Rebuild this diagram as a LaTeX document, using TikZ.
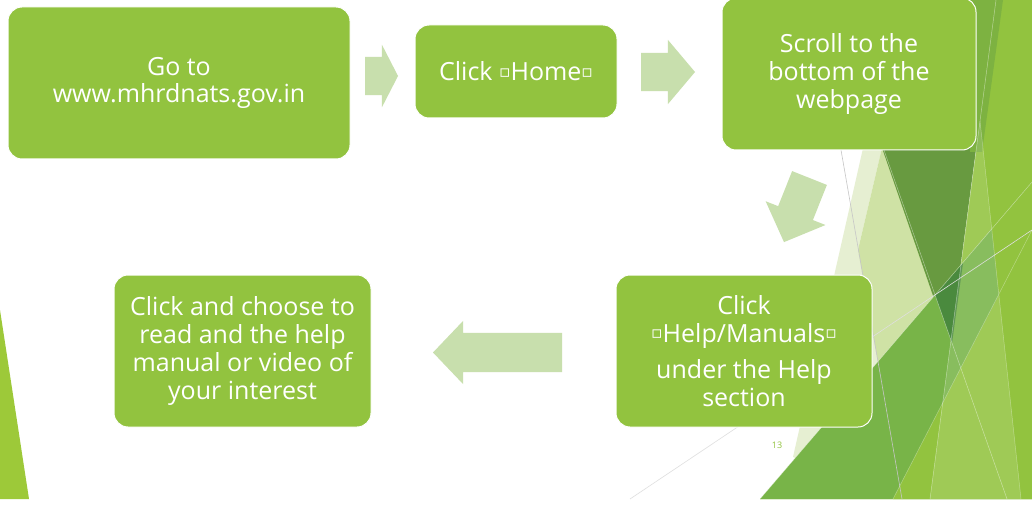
\documentclass[tikz,border=0pt]{standalone}
\usepackage{fontspec}
\setmainfont{Open Sans}
\newfontfamily\symfont{DejaVu Sans}
\usepackage{tikz}
\usetikzlibrary{positioning,calc,shapes.arrows}
\definecolor{leaf}{RGB}{146,195,63}
\definecolor{flowgreen}{RGB}{200,223,173}
\definecolor{palegreen}{RGB}{230,239,210}
\definecolor{midpale}{RGB}{207,226,165}
\definecolor{darkleaf}{RGB}{104,154,64}
\definecolor{midleaf}{RGB}{120,180,72}
\definecolor{deepleaf}{RGB}{74,138,62}
\definecolor{topleaf}{RGB}{125,178,65}
\newcommand{\qmark}{\raisebox{3.5pt}{\symfont\fontsize{17}{17}\selectfont ▫}}

\begin{document}
\begin{tikzpicture}[x=1pt,y=-1pt,
  card/.style={fill=leaf, draw=white, line width=1pt, rounded corners=14pt, align=center,
    text=white, font=\fontsize{25}{27.8}\selectfont, inner sep=0pt},
  flow/.style={single arrow, fill=flowgreen, inner xsep=0pt, outer sep=0pt, anchor=tail}]
\useasboundingbox (0,0) rectangle (1032,505);

%background
\fill[white] (0,0) rectangle (1032,505);
\fill[leaf!90!yellow] (0,310)--(29,499)--(0,499)--cycle;
\fill[leaf] (996,0)--(1032,0)--(1032,499)--(760,499)--(950,345)--cycle;
\fill[palegreen] (793,457)--(866,135)--(885,135)--(858,250)--(902,499)--cycle;
\fill[midpale] (885,135)--(858,250)--(902,499)--(960,360)--cycle;
\fill[darkleaf] (831,0)--(996,0)--(950,345)--cycle;
\fill[topleaf] (970,0)--(1003,0)--(982,152)--(970,152)--cycle;
\fill[midleaf] (760,499)--(1032,182)--(1032,499)--cycle;
\fill[deepleaf] (935,295)--(963,263)--(952,343)--cycle;
\fill[leaf] (893,499)--(998.8,294.9)--(991.7,228.6)--(1032,182)--(1032,499)--cycle;
\fill[white, opacity=0.12] (980,121)--(930,499)--(1021,499)--cycle;

%thin lines
\draw[gray!45, line width=0.6pt] (841,150)--(902,499);
\draw[gray!25, line width=0.6pt] (630,499)--(1032,230);
\draw[white, opacity=0.45, line width=0.5pt] (996,0)--(930,499);
\draw[white, opacity=0.45, line width=0.5pt] (831,0)--(1007,499);
\draw[white, opacity=0.45, line width=0.5pt] (1032,182)--(760,499);
\draw[white, opacity=0.35, line width=0.5pt] (980,121)--(1021,499);
\draw[white, opacity=0.35, line width=0.5pt] (893,499)--(1032,230);

%steps
\node[card, minimum width=342, minimum height=152] (go) at (179,83)
  {Go to\\www.mhrdnats.gov.in};
\node[card, minimum width=202, minimum height=93] (home) at (516,71.5)
  {Click \qmark Home\qmark};
\node[card, minimum width=254, minimum height=152] (scroll) at (849,74)
  {Scroll to the\\bottom of the\\webpage};
\node[card, minimum width=256, minimum height=152] (help) at (744,351)
  {Click\\\qmark Help/Manuals\qmark\\[8pt]under the Help\\section};
\node[card, minimum width=257, minimum height=152] (choose) at (242.5,351)
  {Click and choose to\\read and the help\\manual or video of\\your interest};

%arrows
\node[flow, minimum height=33, minimum width=62, inner ysep=19, single arrow head extend=12,
  single arrow tip angle=125.6] (a1) at (365,76) {};
\node[flow, minimum height=54, minimum width=64, inner ysep=19, single arrow head extend=13,
  single arrow tip angle=99.7] (a2) at (641,72) {};
\node[flow, minimum height=69, minimum width=64, inner ysep=18.5, single arrow head extend=13.5,
  single arrow tip angle=91.8, rotate=-111.7] (a3) at (809.5,178) {};
\node[flow, minimum height=129, minimum width=63, inner ysep=19.5, single arrow head extend=12,
  single arrow tip angle=92.8, rotate=180] (a4) at (562,352.5) {};

%labels
\node[text=leaf, font=\fontsize{9}{10}\selectfont] (page) at (777,445) {13};
\end{tikzpicture}
\end{document}
